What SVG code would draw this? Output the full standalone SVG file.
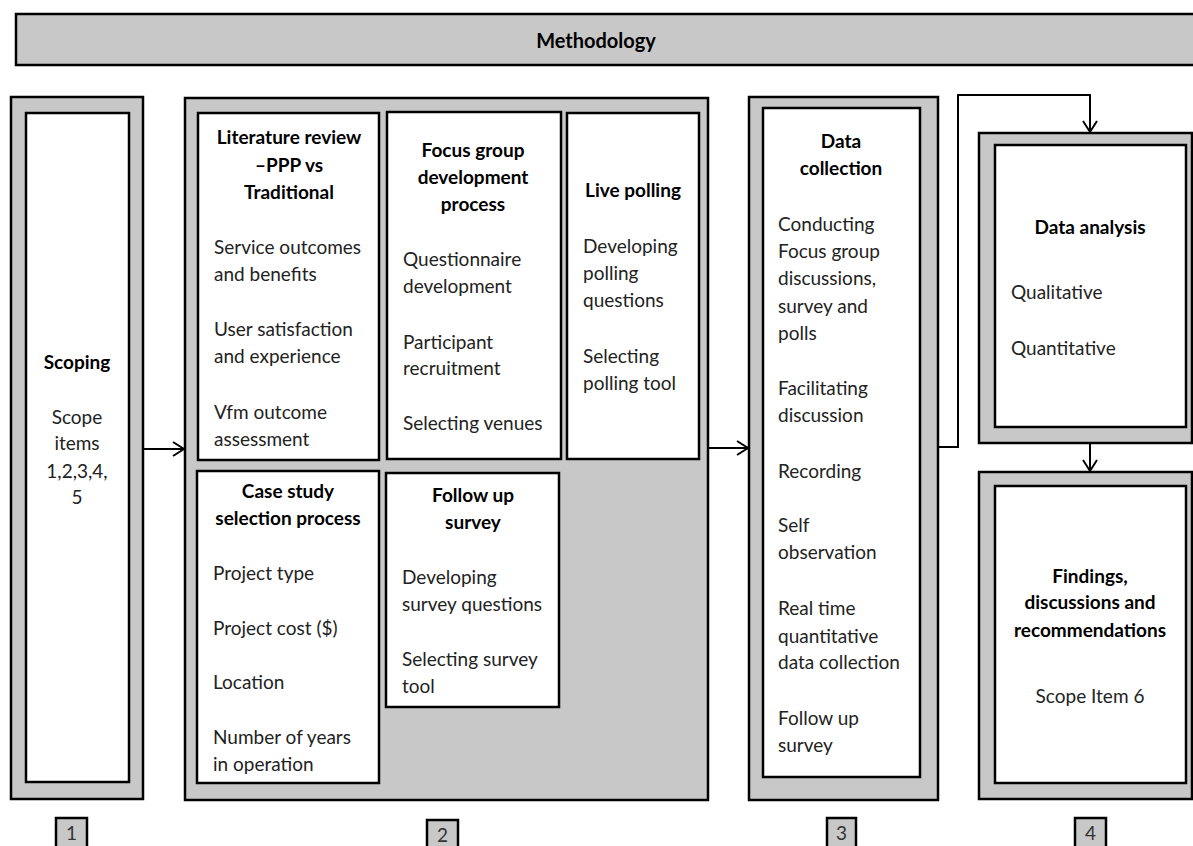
<svg xmlns="http://www.w3.org/2000/svg" width="1193" height="846" viewBox="0 0 1193 846">
<defs>
<style>
.outer{fill:#c8c8c8;stroke:#000;stroke-width:2.5}
.inner{fill:#fff;stroke:#000;stroke-width:2.5}
.conn{fill:none;stroke:#000;stroke-width:2}
text{font-family:Lato,"Liberation Sans",sans-serif;font-size:19px;fill:#222}
.h{font-weight:bold;fill:#000;text-anchor:middle}
.c{text-anchor:middle}
.num{font-size:19px;text-anchor:middle;fill:#333}
</style>
<marker id="arr" markerUnits="userSpaceOnUse" markerWidth="16" markerHeight="18" refX="12" refY="8" orient="auto">
<path d="M1,1 L12,8 L1,15" fill="none" stroke="#000" stroke-width="2"/>
</marker>
</defs>
<rect width="1193" height="846" fill="#fff"/>

<g id="header">
<rect class="outer" x="16" y="14" width="1180" height="51"/>
<text class="h" x="596" y="48" style="font-size:20px">Methodology</text>
</g>

<g id="scoping">
<rect class="outer" x="11" y="97" width="132" height="702"/>
<rect class="inner" x="26" y="113" width="103" height="669"/>
<text class="h" x="77" y="369">Scoping</text>
<text class="c" x="77" y="424">Scope</text>
<text class="c" x="77" y="450">items</text>
<text class="c" x="77" y="478">1,2,3,4,</text>
<text class="c" x="77" y="504">5</text>
</g>

<g id="stage2">
<rect class="outer" x="185" y="98" width="523" height="702"/>
</g>

<g id="literature">
<rect class="inner" x="198" y="113" width="181" height="347"/>
<text class="h" x="289" y="144">Literature review</text>
<text class="h" x="289" y="172">–PPP vs</text>
<text class="h" x="289" y="199">Traditional</text>
<text x="214" y="254">Service outcomes</text>
<text x="214" y="281">and benefits</text>
<text x="214" y="336">User satisfaction</text>
<text x="214" y="363">and experience</text>
<text x="214" y="419">Vfm outcome</text>
<text x="214" y="446">assessment</text>
</g>

<g id="focus">
<rect class="inner" x="387" y="112" width="174" height="347"/>
<text class="h" x="473" y="157">Focus group</text>
<text class="h" x="473" y="184">development</text>
<text class="h" x="473" y="211">process</text>
<text x="403" y="266">Questionnaire</text>
<text x="403" y="293">development</text>
<text x="403" y="349">Participant</text>
<text x="403" y="375">recruitment</text>
<text x="403" y="430">Selecting venues</text>
</g>

<g id="polling">
<rect class="inner" x="567" y="113" width="132" height="346"/>
<text class="h" x="633" y="197">Live polling</text>
<text x="583" y="253">Developing</text>
<text x="583" y="280">polling</text>
<text x="583" y="307">questions</text>
<text x="583" y="363">Selecting</text>
<text x="583" y="390">polling tool</text>
</g>

<g id="casestudy">
<rect class="inner" x="197" y="471" width="182" height="312"/>
<text class="h" x="288" y="498">Case study</text>
<text class="h" x="288" y="525">selection process</text>
<text x="213" y="580">Project type</text>
<text x="213" y="635">Project cost ($)</text>
<text x="213" y="689">Location</text>
<text x="213" y="744">Number of years</text>
<text x="213" y="771">in operation</text>
</g>

<g id="followup">
<rect class="inner" x="386" y="473" width="173" height="234"/>
<text class="h" x="473" y="502">Follow up</text>
<text class="h" x="473" y="529">survey</text>
<text x="402" y="584">Developing</text>
<text x="402" y="611">survey questions</text>
<text x="402" y="666">Selecting survey</text>
<text x="402" y="693">tool</text>
</g>

<g id="datacollection">
<rect class="outer" x="749" y="97" width="189" height="703"/>
<rect class="inner" x="763" y="108" width="157" height="669"/>
<text class="h" x="841" y="148">Data</text>
<text class="h" x="841" y="175">collection</text>
<text x="778" y="231">Conducting</text>
<text x="778" y="258">Focus group</text>
<text x="778" y="285">discussions,</text>
<text x="778" y="313">survey and</text>
<text x="778" y="340">polls</text>
<text x="778" y="395">Facilitating</text>
<text x="778" y="422">discussion</text>
<text x="778" y="478">Recording</text>
<text x="778" y="532">Self</text>
<text x="778" y="559">observation</text>
<text x="778" y="615">Real time</text>
<text x="778" y="643">quantitative</text>
<text x="778" y="669">data collection</text>
<text x="778" y="725">Follow up</text>
<text x="778" y="752">survey</text>
</g>

<g id="dataanalysis">
<rect class="outer" x="979" y="133" width="213" height="310"/>
<rect class="inner" x="995" y="145" width="191" height="282"/>
<text class="h" x="1090" y="234">Data analysis</text>
<text x="1011" y="299">Qualitative</text>
<text x="1011" y="355">Quantitative</text>
</g>

<g id="findings">
<rect class="outer" x="979" y="472" width="213" height="327"/>
<rect class="inner" x="995" y="486" width="191" height="297"/>
<text class="h" x="1090" y="583">Findings,</text>
<text class="h" x="1090" y="609">discussions and</text>
<text class="h" x="1090" y="637">recommendations</text>
<text class="c" x="1090" y="703">Scope Item 6</text>
</g>

<g id="labels">
<rect class="outer" x="56" y="818" width="31" height="36"/>
<text class="num" x="71.5" y="840">1</text>
<rect class="outer" x="427" y="820" width="31" height="36"/>
<text class="num" x="442.5" y="842">2</text>
<rect class="outer" x="827" y="818" width="29" height="36"/>
<text class="num" x="841.5" y="840">3</text>
<rect class="outer" x="1075" y="818" width="31" height="36"/>
<text class="num" x="1090.5" y="840">4</text>
</g>

<g id="connectors">
<path class="conn" d="M143,449 H184" marker-end="url(#arr)"/>
<path class="conn" d="M708,448 H748" marker-end="url(#arr)"/>
<path class="conn" d="M938,447 H958 V95 H1090 V132" marker-end="url(#arr)"/>
<path class="conn" d="M1090,443 V471" marker-end="url(#arr)"/>
</g>
</svg>
